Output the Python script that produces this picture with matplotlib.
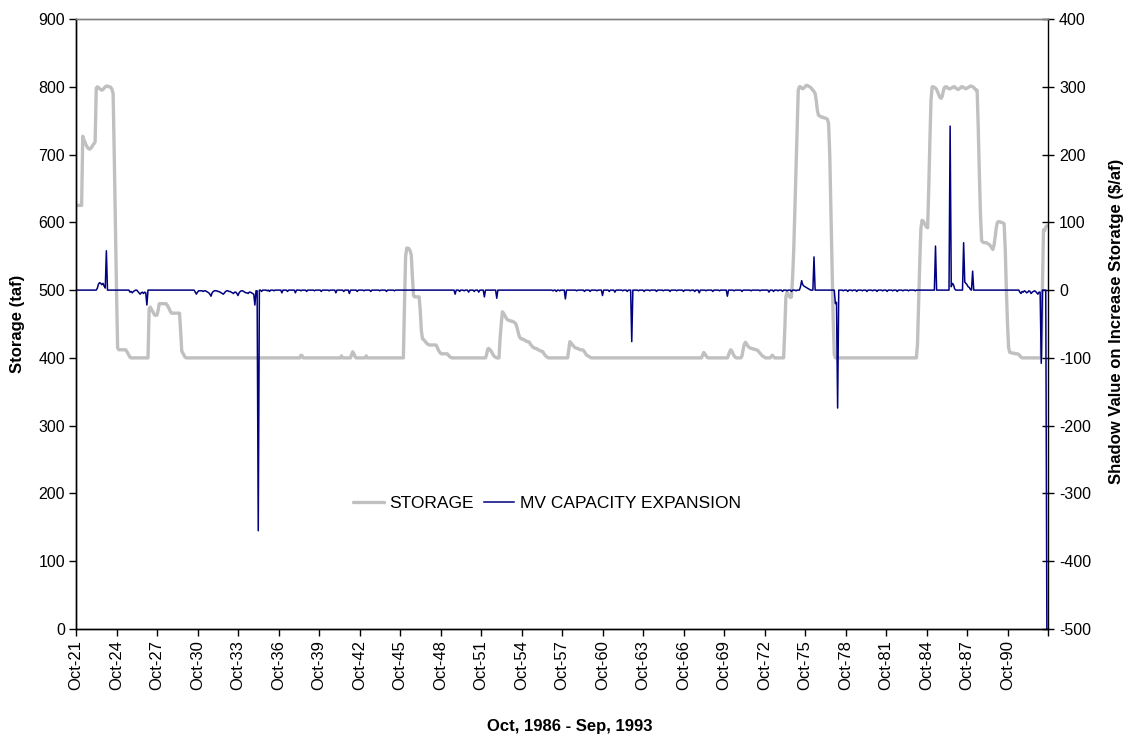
import matplotlib
matplotlib.use("Agg")
import matplotlib.pyplot as plt
import numpy as np

plt.rcParams['font.family'] = ['Liberation Sans', 'DejaVu Sans']
plt.rcParams['axes.unicode_minus'] = False

# ---------------- data (monthly, Oct-1921 .. Sep-1993) ----------------
N_MONTHS = 864
STORAGE_BASE = 400      # taf, flat minimum-pool value
SHADOW_BASE = 0         # $/af

# (start month index)
storage_segments = [
    (0, [625, 625, 625, 625, 625, 625, 727, 722, 718, 714, 711, 709, 708, 709, 711, 714, 716, 719,
         798, 800, 799, 797, 796, 795, 796, 798, 800, 801, 801, 800, 800, 799, 796,
         790, 700, 600, 500, 415, 412, 412, 412, 412, 412, 412, 412, 410, 407, 404, 401]),
    (65, [472, 475, 472, 469, 466, 463, 463, 463, 470, 480, 480, 480, 480, 480, 480, 480,
          478, 475, 472, 468, 466, 466, 466, 466, 466, 466, 466, 466, 440, 410, 407, 404, 401]),
    (200, [404, 403]),
    (236, [403]),
    (245, [405, 409, 406, 402]),
    (258, [403]),
    (292, [480, 550, 562, 562, 561, 558, 552, 520, 492, 490, 490, 490, 490, 490,
           470, 440, 428, 427, 425, 423, 421, 420, 419, 419, 419, 419, 419, 419, 419,
           416, 412, 409, 407, 406, 406, 406, 406, 406, 406, 404, 402, 401]),
    (365, [405, 413, 414, 412, 410, 407, 404, 402, 401, 400, 400, 400,
           430, 450, 468, 466, 463, 460, 457, 456, 455, 455, 454, 454, 453, 452, 450,
           445, 438, 432, 429, 428, 428, 427, 426, 425, 424, 424, 423,
           420, 418, 416, 415, 414, 414, 413, 412, 411, 410, 410, 409, 406, 404, 402, 401]),
    (438, [412, 424, 422, 420, 418, 416, 415, 414, 414, 413, 412, 412, 412, 411, 409, 406, 404, 403, 402, 401]),
    (557, [404, 408, 406, 403, 401]),
    (580, [404, 409, 412, 410, 406, 403, 401, 400, 400, 400, 400, 400, 403,
           412, 420, 423, 421, 418, 416, 415, 414, 414, 413, 413, 412, 412, 411,
           409, 407, 405, 403, 402, 401]),
    (618, [402, 404, 402]),
    (630, [440, 490, 497, 494, 491, 489, 490, 520, 560, 620, 680, 740, 795,
           800, 800, 798, 797, 798, 800, 802, 802, 801, 800, 799, 797, 795, 793, 790,
           780, 765, 758, 757, 756, 755, 755, 754, 754, 753, 752, 745,
           700, 620, 540, 460, 405]),
    (748, [420, 480, 540, 590, 603, 602, 599, 596, 593, 592, 650, 720, 780,
           800, 800, 799, 798, 796, 792, 788, 784, 783, 786, 794, 799,
           800, 800, 798, 797, 797, 798, 799, 800, 800, 798, 797, 796, 797, 798,
           800, 800, 799, 798, 797, 798, 799, 800, 801, 801, 800, 799, 797, 795,
           795, 740, 670, 610, 573, 571, 570, 570, 570, 569, 568, 567, 565, 562, 560,
           566, 578, 592, 600, 601, 601, 600, 600, 599, 598, 560, 500, 450, 415,
           408, 408, 407, 407, 407, 406, 406, 406, 405, 403, 401]),
    (858, [400, 500, 589, 588, 593, 595]),
]

shadow_segments = [
    (19, [3, 9, 11, 10, 8, 10, 6, 3, 58]),
    (48, [-3, -2, -4, -2, -1, 0, 0, -2, -4, -6, -4, -3, -5, -3, -4, -22]),
    (105, [0, -3, -6, -3, -1, -1, -1, -1, -2, -1, -1, -2, -3, -4, -6, -9, -4, -2, -1, -1,
           -1, -2, -2, -3, -4, -5, -6, -4, -2, -1, -1, -2, -2, -3, -4, -5, -3, -3, -5, -8,
           -4, -2, -1, -1, -2, -3, -4, -4, -5, -3, -3, -4, -5, -6, -22, -1, -1, -355]),
    (644, [5, 14, 8, 6, 5, 4, 3, 2, 1, 0, 0, 0, 49]),
    (675, [-20, -18, -174]),
    (764, [65]),
    (777, [242, 5, 10, 8, 2]),
    (789, [70, 12, 10, 8, 5, 4, 1, 0, 28]),
    (839, [-3, -5, -2, -3, -1, -2, -4, -3, -1, -2, -5, -3, -2, -1, -2, -4, -6, -3, -3,
           -108, 0, 0, 0, 0, -500]),
]

# small single-month dips of the shadow value
shadow_dips = {
    165: -2, 170: -1, 172: -2, 176: -1, 183: -4, 188: -2, 195: -4, 200: -1, 205: -2,
    212: -1, 218: -2, 225: -1, 231: -4, 238: -2, 243: -5, 250: -2, 256: -1, 262: -2,
    270: -1, 276: -2, 283: -1, 337: -6, 341: -2, 345: -1, 349: -3, 354: -2, 358: -3,
    363: -10, 374: -12, 424: -1, 427: -2, 430: -1, 435: -13, 445: -1, 452: -2, 457: -2,
    463: -1, 468: -8, 474: -2, 479: -3, 486: -1, 490: -2, 494: -76, 500: -1, 505: -2,
    510: -1, 516: -2, 522: -1, 528: -2, 534: -1, 540: -2, 546: -1, 550: -2, 554: -4,
    560: -1, 566: -2, 572: -1, 579: -9, 585: -1, 592: -2, 600: -1, 608: -1, 616: -3,
    620: -2, 624: -1, 628: -2, 632: -1, 636: -2, 640: -1, 682: -1, 686: -2, 690: -1,
    694: -2, 699: -1, 703: -2, 708: -1, 712: -2, 717: -1, 721: -2, 726: -1, 730: -2,
    735: -1, 740: -1, 746: -1,
}

tick_labels = ['Oct-21', 'Oct-24', 'Oct-27', 'Oct-30', 'Oct-33', 'Oct-36', 'Oct-39',
               'Oct-42', 'Oct-45', 'Oct-48', 'Oct-51', 'Oct-54', 'Oct-57', 'Oct-60',
               'Oct-63', 'Oct-66', 'Oct-69', 'Oct-72', 'Oct-75', 'Oct-78', 'Oct-81',
               'Oct-84', 'Oct-87', 'Oct-90']
series_names = ['STORAGE', 'MV CAPACITY EXPANSION']


def build(base, segments, singles=None):
    arr = np.full(N_MONTHS, float(base))
    for start, vals in segments:
        vals = vals[:N_MONTHS - start]
        arr[start:start + len(vals)] = vals
    if singles:
        for m, v in singles.items():
            arr[m] = v
    return arr


storage = build(STORAGE_BASE, storage_segments)
shadow = build(SHADOW_BASE, shadow_segments, shadow_dips)
months = np.arange(N_MONTHS)

# ---------------- figure ----------------
W, H = 1125, 738
fig = plt.figure(figsize=(W / 100, H / 100), dpi=100)
L, R, T, B = 76, 1048, 19, 629
ax = fig.add_axes([L / W, 1 - B / H, (R - L) / W, (B - T) / H])
ax2 = ax.twinx()

l1, = ax.plot(months, storage, color='#C0C0C0', lw=2.4, solid_joinstyle='round',
              solid_capstyle='round', label=series_names[0])
l2, = ax2.plot(months, shadow, color='#000080', lw=1.1, label=series_names[1])

ax.set_xlim(0, N_MONTHS)
ax.set_ylim(0, 900)
ax2.set_ylim(-500, 400)
ax.set_yticks(np.arange(0, 901, 100))
ax2.set_yticks(np.arange(-500, 401, 100))
ax.set_xticks(np.arange(0, N_MONTHS + 1, 36))
ax.set_xticklabels(tick_labels + [''], rotation=90)

for a in (ax, ax2):
    for s in a.spines.values():
        s.set_linewidth(1.0)
        s.set_color('black')
    a.spines['top'].set_color('#808080')
ax.spines['right'].set_visible(False)

ax.tick_params(axis='y', direction='out', length=5, width=1, labelsize=11.5, pad=3)
ax.tick_params(axis='x', direction='out', length=5, width=1, labelsize=12, pad=3)
ax2.tick_params(axis='y', direction='inout', length=8, width=1, labelsize=11.5, pad=4)

fig.text(18 / W, 1 - 324 / H, 'Storage (taf)', rotation=90, ha='center', va='center',
         fontweight='bold', fontsize=12)
fig.text(1117 / W, 1 - 321 / H, 'Shadow Value on Increase Storatge ($/af)', rotation=90,
         ha='center', va='center', fontweight='bold', fontsize=12)
fig.text(570 / W, 1 - 727 / H, 'Oct, 1986 - Sep, 1993', ha='center', va='center',
         fontweight='bold', fontsize=12)

leg = ax2.legend(handles=[l1, l2], loc='center', bbox_to_anchor=((547 - L) / (R - L), (B - 503) / (B - T)),
                 ncol=2, frameon=False, fontsize=12.5, handlelength=1.75, columnspacing=0.6,
                 handletextpad=0.3)

fig.savefig('out.png', dpi=100)
